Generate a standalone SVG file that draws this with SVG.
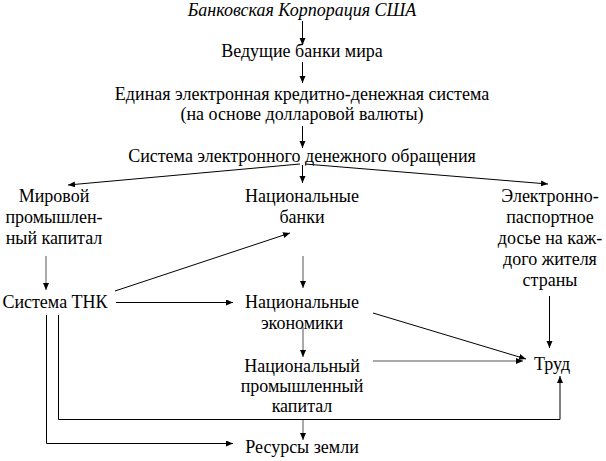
<svg xmlns="http://www.w3.org/2000/svg" width="606" height="461" viewBox="0 0 606 461">
<defs>
<marker id="ah" markerUnits="userSpaceOnUse" markerWidth="8" markerHeight="7" refX="7" refY="3" orient="auto">
<path d="M0,0 L7,3 L0,6 z" fill="#000"/>
</marker>
</defs>
<style>
text{font-family:'Liberation Serif','Times New Roman',serif;font-size:18px;fill:#000;text-anchor:middle}
.it{font-style:italic}
.c line,.c polyline{stroke:#000;stroke-width:1;fill:none}
.g{stroke:#555 !important}
.a{marker-end:url(#ah)}
</style>
<rect width="606" height="461" fill="#fff"/>
<g id="n-bank-usa"><text class="it" x="302" y="16">Банковская Корпорация США</text></g>
<g id="n-leading"><text x="302" y="57">Ведущие банки мира</text></g>
<g id="n-unified"><text x="302" y="100">Единая электронная кредитно-денежная система</text><text x="302" y="120">(на основе долларовой валюты)</text></g>
<g id="n-circulation"><text x="302" y="162">Система электронного денежного обращения</text></g>
<g id="n-world-capital"><text x="54" y="202">Мировой</text><text x="54" y="223">промышлен-</text><text x="54" y="244">ный капитал</text></g>
<g id="n-nat-banks"><text x="302" y="202">Национальные</text><text x="302" y="223">банки</text></g>
<g id="n-dossier"><text x="550" y="202">Электронно-</text><text x="550" y="223">паспортное</text><text x="550" y="244">досье на каж-</text><text x="550" y="265">дого жителя</text><text x="550" y="286">страны</text></g>
<g id="n-tnk"><text x="55" y="308">Система ТНК</text></g>
<g id="n-nat-econ"><text x="302" y="308">Национальные</text><text x="302" y="329">экономики</text></g>
<g id="n-nat-capital"><text x="302" y="372">Национальный</text><text x="302" y="392">промышленный</text><text x="302" y="412">капитал</text></g>
<g id="n-labor"><text x="552" y="370">Труд</text></g>
<g id="n-resources"><text x="302" y="453">Ресурсы земли</text></g>
<g id="connectors" class="c">
<line class="a" x1="302.5" y1="21" x2="302.5" y2="45"/>
<line class="a" x1="302.5" y1="62" x2="302.5" y2="83"/>
<line class="a" x1="302.5" y1="126" x2="302.5" y2="148"/>
<line class="a" x1="302.5" y1="165" x2="302.5" y2="183"/>
<line class="a" x1="300" y1="164" x2="68" y2="185"/>
<line class="a" x1="305" y1="164" x2="548" y2="184"/>
<line class="a g" x1="46" y1="256" x2="46" y2="290"/>
<line class="a g" x1="303" y1="256" x2="303" y2="288"/>
<line class="a" x1="549.5" y1="296" x2="549.5" y2="348"/>
<line class="a" x1="115" y1="291" x2="290" y2="233"/>
<line class="a" x1="116" y1="302.5" x2="233" y2="302.5"/>
<line class="a g" x1="303" y1="327" x2="303" y2="357"/>
<line class="a" x1="373" y1="313" x2="526" y2="359"/>
<line class="a g" x1="373" y1="361" x2="523" y2="361"/>
<polyline class="a" points="58.5,315 58.5,419.5 560,419.5 560,376"/>
<polyline class="a" points="46.5,315 46.5,443.5 233,443.5"/>
<line class="a g" x1="303" y1="420" x2="303" y2="440"/>
</g>
</svg>
